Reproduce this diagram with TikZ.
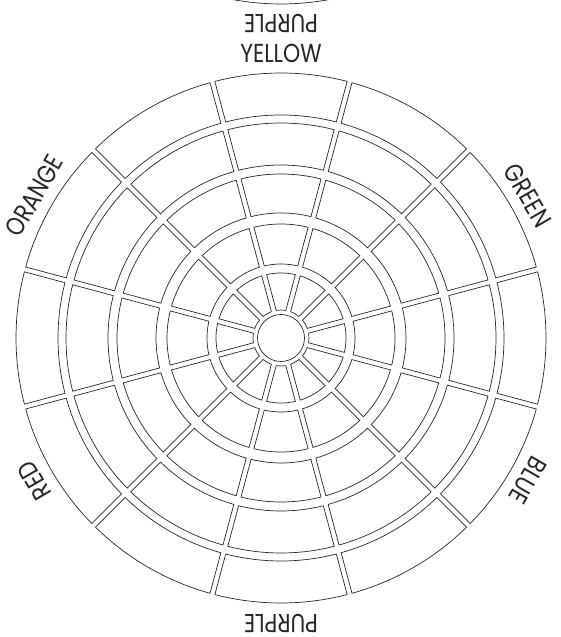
\documentclass[tikz,border=0pt]{standalone}
\usepackage{fontspec}
\setmainfont{Poppins}
\newfontfamily\lblfont{Poppins}[FakeStretch=0.84]
\begin{document}
\begin{tikzpicture}[
  cellline/.style={draw=black!85, line width=0.7pt},
  lbl/.style={font=\lblfont\fontsize{26}{26}\selectfont, text=black!85, inner sep=0pt},
]
\useasboundingbox (0,0) rectangle (560pt,637pt);
\clip (0,0) rectangle (560pt,637pt);
\coordinate (C) at (281pt,299pt);
\coordinate (C2) at (281pt,898pt);
\def\g{2.5}
% rings of cells
\foreach \ri/\ro in {223/265, 173/215, 125/164, 74/114, 28/65} {
  \foreach \k in {0,...,11} {
    \pgfmathsetmacro\cc{\k*30}
    \pgfmathsetmacro\ao{\cc-15+asin(\g/\ro)}
    \pgfmathsetmacro\bo{\cc+15-asin(\g/\ro)}
    \pgfmathsetmacro\ai{\cc-15+asin(\g/\ri)}
    \pgfmathsetmacro\bi{\cc+15-asin(\g/\ri)}
    \draw[cellline] ([shift={(\ao:\ro pt)}]C) arc[start angle=\ao, end angle=\bo, radius=\ro pt]
      -- ([shift={(\bi:\ri pt)}]C) arc[start angle=\bi, end angle=\ai, radius=\ri pt] -- cycle;
  }
}
% hub
\node[circle, cellline, minimum size=47pt, inner sep=0pt] (hub) at (C) {};
% labels
\foreach \name/\ang in {YELLOW/90, GREEN/30, BLUE/-30, PURPLE/-90, RED/210, ORANGE/150}
  \node[lbl, rotate=\ang-90] (l\name) at ([shift={(\ang:285pt)}]C) {\name};
% neighbouring wheel above (only its lowest part is visible)
\pgfmathsetmacro\ao{255+asin(\g/265)}
\pgfmathsetmacro\bo{285-asin(\g/265)}
\pgfmathsetmacro\ai{255+asin(\g/223)}
\pgfmathsetmacro\bi{285-asin(\g/223)}
\draw[cellline] ([shift={(\ao:265pt)}]C2) arc[start angle=\ao, end angle=\bo, radius=265pt]
  -- ([shift={(\bi:223pt)}]C2) arc[start angle=\bi, end angle=\ai, radius=223pt] -- cycle;
\node[lbl, rotate=180] (lPurpleTop) at ([shift={(270:284pt)}]C2) {PURPLE};
\end{tikzpicture}
\end{document}
